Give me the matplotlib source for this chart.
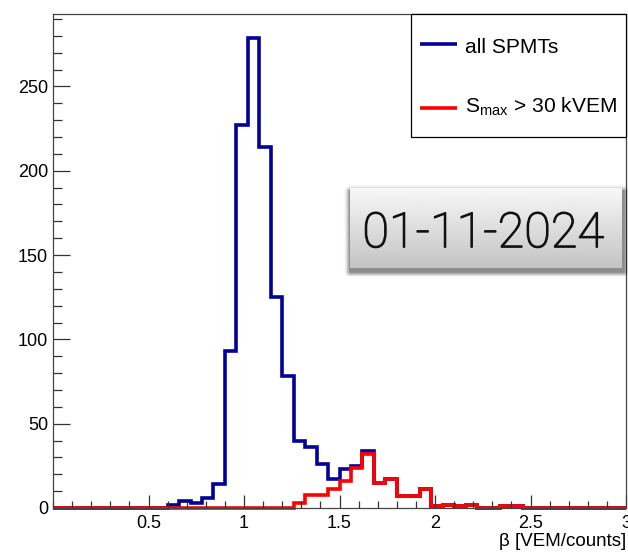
import numpy as np
import matplotlib
matplotlib.use('Agg')
import matplotlib.pyplot as plt
import matplotlib.patheffects as pe
from matplotlib.patches import Rectangle
from matplotlib.ticker import MultipleLocator

plt.rcParams['font.family'] = ['Liberation Sans', 'DejaVu Sans']
plt.rcParams['mathtext.fontset'] = 'custom'
plt.rcParams['mathtext.rm'] = 'Liberation Sans'
plt.rcParams['mathtext.it'] = 'Liberation Sans:italic'

# beta histogram: 50 bins of 0.06 between 0 and 3
bin_edges = np.linspace(0, 3, 51)
all_spmts = [0] * 10 + [2, 4, 3, 6, 14, 93, 227, 279, 214, 125,
                        78, 40, 36, 26, 17, 23, 25, 34, 15, 17,
                        7, 7, 11, 1, 2, 1, 2, 0, 0, 1, 1] + [0] * 9
high_smax = [0] * 21 + [3, 8, 8, 11, 16, 24, 32, 15, 17,
                        7, 7, 11, 1, 2, 1, 2, 0, 0, 1, 1] + [0] * 9
legend_labels = ['all SPMTs', r'S$_{\mathrm{max}}$ > 30 kVEM']
date_label = '01-11-2024'

W, H = 628, 552
fig = plt.figure(figsize=(W / 100, H / 100), dpi=100)
ax = fig.add_axes([53 / W, 1 - 508 / H, 573 / W, 494 / H])

blue = '#000099'
red = '#ff0000'
ax.stairs(all_spmts, bin_edges, color=blue, lw=2.6, joinstyle='miter', clip_on=False)
ax.stairs(high_smax, bin_edges, color=red, lw=2.6, joinstyle='miter', clip_on=False)

ax.set_xlim(0, 3)
ax.set_ylim(0, 1.05 * max(all_spmts))
ax.set_xticks([0.5, 1, 1.5, 2, 2.5, 3])
ax.set_xticklabels(['0.5', '1', '1.5', '2', '2.5', '3'])
ax.set_yticks([0, 50, 100, 150, 200, 250])
ax.xaxis.set_minor_locator(MultipleLocator(0.1))
ax.yaxis.set_minor_locator(MultipleLocator(10))
ax.tick_params(which='both', direction='in', top=False, right=False,
               labelsize=13, color='#333333', width=0.9)
ax.tick_params(axis='x', which='major', length=9.5, pad=5)
ax.tick_params(axis='x', which='minor', length=5)
ax.tick_params(axis='y', which='major', length=12, pad=3.5)
ax.tick_params(axis='y', which='minor', length=6.5)
for s in ax.spines.values():
    s.set_color('#444444')
    s.set_linewidth(0.9)

ax.set_xlabel('β [VEM/counts]', loc='right', fontsize=13.5, labelpad=1)

# legend box in the top right corner
ax.add_patch(Rectangle((0.6248, 0.751), 0.3752, 0.249, transform=ax.transAxes,
                       facecolor='white', edgecolor='black', lw=0.9, zorder=5,
                       clip_on=False))
for color, label, y_line, y_text in [(blue, legend_labels[0], 0.9393, 0.921),
                                     (red, legend_labels[1], 0.809, 0.7996)]:
    ax.plot([0.6405, 0.7051], [y_line, y_line], color=color, lw=2.6,
            transform=ax.transAxes, zorder=6, solid_capstyle='butt')
    ax.text(0.719, y_text, label, fontsize=15.1, transform=ax.transAxes,
            va='baseline', ha='left', zorder=6)

# date stamp: shaded box with drop shadow
bx, by, bw, bh = 350, 188, 272, 80
pad = 8
shadow_ax = fig.add_axes([(bx - pad) / W, 1 - (by + bh + pad) / H,
                          (bw + 2 * pad) / W, (bh + 2 * pad) / H])
yy, xx = np.mgrid[0:bh + 2 * pad, 0:bw + 2 * pad]
dx = np.maximum(np.maximum(pad - xx, xx - (pad + bw)), 0)
dy = np.maximum(np.maximum(pad + 3 - yy, yy - (pad + 3 + bh)), 0)
shade = np.zeros(yy.shape + (4,))
shade[..., 3] = 0.45 * np.exp(-(np.hypot(dx, dy) / 3.5) ** 2)
shadow_ax.imshow(shade, aspect='auto', extent=[0, 1, 0, 1], interpolation='bilinear')
shadow_ax.axis('off')

box_ax = fig.add_axes([bx / W, 1 - (by + bh) / H, bw / W, bh / H])
grad = np.linspace(0.97, 0.77, 80)[:, None]
box_ax.imshow(grad, cmap='gray', vmin=0, vmax=1, aspect='auto',
              extent=[0, 1, 0, 1], interpolation='bilinear')
box_ax.axis('off')
box_ax.text(0.49, 0.26, date_label, fontsize=35, family=['Roboto', 'Liberation Sans'],
            fontweight='light', ha='center', va='baseline', color='#111111',
            path_effects=[pe.withStroke(linewidth=0.9, foreground='#111111')])

fig.savefig('out.png', dpi=100)
